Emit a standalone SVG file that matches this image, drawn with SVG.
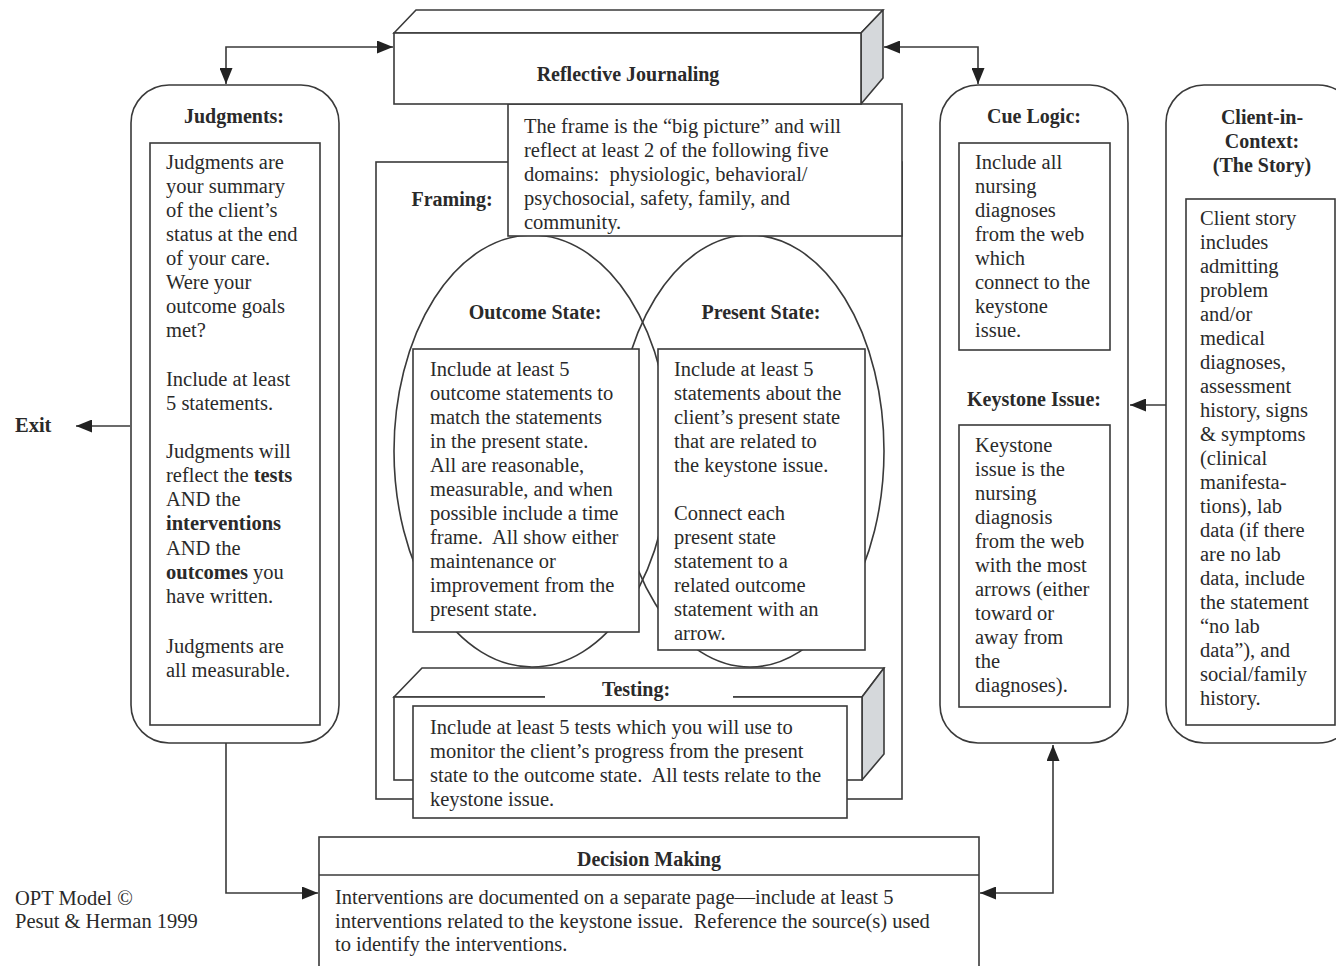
<svg xmlns="http://www.w3.org/2000/svg" width="1336" height="966" viewBox="0 0 1336 966">
<defs>
<style>
text{font-family:"Liberation Serif","Times New Roman",serif;font-size:20.5px;fill:#2a2a2a;white-space:pre}
.b{font-weight:bold;font-size:20px;text-anchor:middle}
.bl{font-weight:bold}
.s{fill:#fff;stroke:#3a3a3a;stroke-width:1.6}
.n{fill:none;stroke:#3a3a3a;stroke-width:1.6}
.g{fill:#d5d8db;stroke:#3a3a3a;stroke-width:1.6;stroke-linejoin:round}
.c{fill:none;stroke:#3a3a3a;stroke-width:1.6}
</style>
<marker id="ah" viewBox="0 0 16 13" refX="16" refY="6.5" markerWidth="16" markerHeight="13" markerUnits="userSpaceOnUse" orient="auto-start-reverse">
<path d="M0,0 L16,6.5 L0,13 z" fill="#222"/>
</marker>
</defs>
<rect width="1336" height="966" fill="#fff"/>

<g id="connectors">
<path class="c" d="M226,84 V47 H393" marker-start="url(#ah)" marker-end="url(#ah)"/>
<path class="c" d="M884,47 H978 V84" marker-start="url(#ah)" marker-end="url(#ah)"/>
<path class="c" d="M130,426 H76" marker-end="url(#ah)"/>
<path class="c" d="M226,743 V893 H318" marker-end="url(#ah)"/>
<path class="c" d="M1166,405 H1130" marker-end="url(#ah)"/>
<path class="c" d="M980,893 H1053 V745" marker-start="url(#ah)" marker-end="url(#ah)"/>
</g>

<g id="node-exit">
<text class="bl" x="15" y="432">Exit</text>
</g>

<g id="node-framing">
<rect class="n" x="376" y="162" width="526" height="637"/>
<text class="b" x="452" y="206">Framing:</text>
</g>

<g id="node-outcome">
<ellipse class="n" cx="532" cy="451" rx="138" ry="216"/>
</g>
<g id="node-present">
<ellipse class="n" cx="750" cy="451" rx="134" ry="216"/>
</g>
<g id="node-outcome-box">
<text class="b" x="535" y="319">Outcome State:</text>
<rect class="s" x="413" y="349" width="226" height="283"/>
<text x="430" y="376">Include at least 5</text>
<text x="430" y="400">outcome statements to</text>
<text x="430" y="424">match the statements</text>
<text x="430" y="448">in the present state.</text>
<text x="430" y="472">All are reasonable,</text>
<text x="430" y="496">measurable, and when</text>
<text x="430" y="520">possible include a time</text>
<text x="430" y="544">frame.  All show either</text>
<text x="430" y="568">maintenance or</text>
<text x="430" y="592">improvement from the</text>
<text x="430" y="616">present state.</text>
</g>
<g id="node-present-box">
<text class="b" x="761" y="319">Present State:</text>
<rect class="s" x="658" y="349" width="207" height="301"/>
<text x="674" y="376">Include at least 5</text>
<text x="674" y="400">statements about the</text>
<text x="674" y="424">client’s present state</text>
<text x="674" y="448">that are related to</text>
<text x="674" y="472">the keystone issue.</text>
<text x="674" y="520">Connect each</text>
<text x="674" y="544">present state</text>
<text x="674" y="568">statement to a</text>
<text x="674" y="592">related outcome</text>
<text x="674" y="616">statement with an</text>
<text x="674" y="640">arrow.</text>
</g>

<g id="node-framing-text">
<rect class="s" x="508" y="104" width="394" height="132"/>
<text x="524" y="133">The frame is the “big picture” and will</text>
<text x="524" y="157">reflect at least 2 of the following five</text>
<text x="524" y="181">domains:  physiologic, behavioral/</text>
<text x="524" y="205">psychosocial, safety, family, and</text>
<text x="524" y="229">community.</text>
</g>

<g id="node-reflective">
<polygon class="s" points="394,33 416,10 883,10 861,33"/>
<polygon class="g" points="861,33 883,10 883,78 861,104"/>
<rect class="s" x="394" y="33" width="467" height="71"/>
<text class="b" x="628" y="81">Reflective Journaling</text>
</g>

<g id="node-testing">
<polygon class="s" points="394,697 422,668 884,668 862,697"/>
<polygon class="g" points="862,697 884,668 884,754 862,780"/>
<rect class="s" x="394" y="697" width="468" height="83"/>
<rect x="545" y="680" width="188" height="20" fill="#fff"/>
<text class="b" x="636" y="696">Testing:</text>
<rect class="s" x="413" y="706" width="434" height="112"/>
<text x="430" y="734">Include at least 5 tests which you will use to</text>
<text x="430" y="758">monitor the client’s progress from the present</text>
<text x="430" y="782">state to the outcome state.  All tests relate to the</text>
<text x="430" y="806">keystone issue.</text>
</g>

<g id="node-judgments">
<rect class="n" x="131" y="85" width="208" height="658" rx="38"/>
<text class="b" x="234" y="123">Judgments:</text>
<rect class="n" x="150" y="143" width="170" height="582"/>
<text x="166" y="169">Judgments are</text>
<text x="166" y="193">your summary</text>
<text x="166" y="217">of the client’s</text>
<text x="166" y="241">status at the end</text>
<text x="166" y="265">of your care.</text>
<text x="166" y="289">Were your</text>
<text x="166" y="313">outcome goals</text>
<text x="166" y="337">met?</text>
<text x="166" y="386">Include at least</text>
<text x="166" y="410">5 statements.</text>
<text x="166" y="458">Judgments will</text>
<text x="166" y="482">reflect the <tspan class="bl">tests</tspan></text>
<text x="166" y="506">AND the</text>
<text x="166" y="530"><tspan class="bl">interventions</tspan></text>
<text x="166" y="555">AND the</text>
<text x="166" y="579"><tspan class="bl">outcomes</tspan> you</text>
<text x="166" y="603">have written.</text>
<text x="166" y="653">Judgments are</text>
<text x="166" y="677">all measurable.</text>
</g>

<g id="node-cue">
<rect class="n" x="940" y="85" width="188" height="658" rx="38"/>
<text class="b" x="1034" y="123">Cue Logic:</text>
<rect class="n" x="959" y="143" width="151" height="207"/>
<text x="975" y="169">Include all</text>
<text x="975" y="193">nursing</text>
<text x="975" y="217">diagnoses</text>
<text x="975" y="241">from the web</text>
<text x="975" y="265">which</text>
<text x="975" y="289">connect to the</text>
<text x="975" y="313">keystone</text>
<text x="975" y="337">issue.</text>
<text class="b" x="1034" y="406">Keystone Issue:</text>
<rect class="n" x="959" y="425" width="151" height="282"/>
<text x="975" y="452">Keystone</text>
<text x="975" y="476">issue is the</text>
<text x="975" y="500">nursing</text>
<text x="975" y="524">diagnosis</text>
<text x="975" y="548">from the web</text>
<text x="975" y="572">with the most</text>
<text x="975" y="596">arrows (either</text>
<text x="975" y="620">toward or</text>
<text x="975" y="644">away from</text>
<text x="975" y="668">the</text>
<text x="975" y="692">diagnoses).</text>
</g>

<g id="node-client">
<rect class="n" x="1166" y="85" width="190" height="658" rx="38"/>
<text class="b" x="1262" y="124">Client-in-</text>
<text class="b" x="1262" y="148">Context:</text>
<text class="b" x="1262" y="172">(The Story)</text>
<rect class="n" x="1186" y="199" width="149" height="526"/>
<text x="1200" y="225">Client story</text>
<text x="1200" y="249">includes</text>
<text x="1200" y="273">admitting</text>
<text x="1200" y="297">problem</text>
<text x="1200" y="321">and/or</text>
<text x="1200" y="345">medical</text>
<text x="1200" y="369">diagnoses,</text>
<text x="1200" y="393">assessment</text>
<text x="1200" y="417">history, signs</text>
<text x="1200" y="441">&amp; symptoms</text>
<text x="1200" y="465">(clinical</text>
<text x="1200" y="489">manifesta-</text>
<text x="1200" y="513">tions), lab</text>
<text x="1200" y="537">data (if there</text>
<text x="1200" y="561">are no lab</text>
<text x="1200" y="585">data, include</text>
<text x="1200" y="609">the statement</text>
<text x="1200" y="633">“no lab</text>
<text x="1200" y="657">data”), and</text>
<text x="1200" y="681">social/family</text>
<text x="1200" y="705">history.</text>
</g>

<g id="node-decision">
<rect class="s" x="319" y="837" width="660" height="140"/>
<line class="n" x1="319" y1="875" x2="979" y2="875"/>
<text class="b" x="649" y="866">Decision Making</text>
<text x="335" y="904">Interventions are documented on a separate page—include at least 5</text>
<text x="335" y="928">interventions related to the keystone issue.  Reference the source(s) used</text>
<text x="335" y="951">to identify the interventions.</text>
</g>

<g id="credits">
<text x="15" y="905">OPT Model ©</text>
<text x="15" y="928">Pesut &amp; Herman 1999</text>
</g>
</svg>
